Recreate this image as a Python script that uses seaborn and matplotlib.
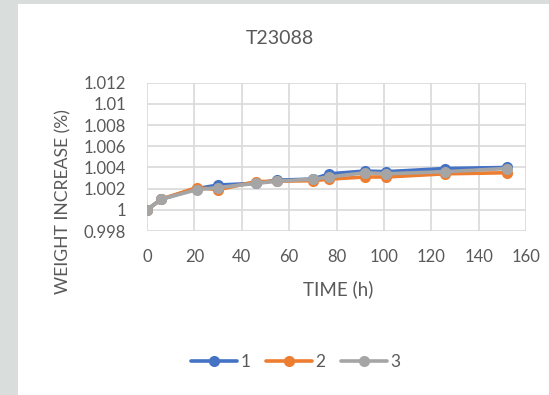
import matplotlib
matplotlib.use("Agg")
import matplotlib.pyplot as plt
import matplotlib.patches as mpatches
from matplotlib.lines import Line2D
from matplotlib.ticker import FuncFormatter, MultipleLocator
import seaborn as sns
import pandas as pd

time_h = [0, 6, 21, 30, 46, 55, 70, 77, 92, 101, 126, 152]
series_1 = [1.0, 1.001, 1.0020, 1.00234, 1.0025, 1.0028, 1.0029, 1.0034, 1.00366, 1.0036, 1.0039, 1.0040]
series_2 = [1.0, 1.001, 1.0021, 1.0019, 1.00266, 1.0027, 1.00275, 1.0029, 1.0031, 1.0031, 1.0034, 1.0035]
series_3 = [1.0, 1.001, 1.0019, 1.0021, 1.0025, 1.0027, 1.0029, 1.0031, 1.0035, 1.0034, 1.0036, 1.0039]
series_names = ["1", "2", "3"]
colors = ["#4472C4", "#ED7D31", "#A5A5A5"]

rows = []
for name, vals in zip(series_names, [series_1, series_2, series_3]):
    for t, v in zip(time_h, vals):
        rows.append({"TIME": t, "VALUE": v, "SERIES": name})
df = pd.DataFrame(rows)

sns.set_style("white")
plt.rcParams["font.family"] = ["Lato", "DejaVu Sans"]
text_color = "#595959"

W, H = 549, 395
fig = plt.figure(figsize=(W / 100, H / 100), dpi=100)
fig.patch.set_facecolor("white")
# gray frame strips
fig.patches.append(mpatches.Rectangle((0, 0), 18 / W, 1, transform=fig.transFigure,
                                      facecolor="#d9dedc", edgecolor="none", zorder=0))
fig.patches.append(mpatches.Rectangle((0, 1 - 4 / H), 1, 4 / H, transform=fig.transFigure,
                                      facecolor="#d9dedc", edgecolor="none", zorder=0))

left, right, top, bottom = 147, 526, 82.7, 231
ax = fig.add_axes([left / W, 1 - bottom / H, (right - left) / W, (bottom - top) / H])

sns.lineplot(data=df, x="TIME", y="VALUE", hue="SERIES", palette=colors,
             marker="o", markersize=8, markeredgewidth=0, linewidth=2.6,
             ax=ax, legend=False)

ax.set_xlim(0, 160)
ax.set_ylim(0.998, 1.012)
ax.xaxis.set_major_locator(MultipleLocator(20))
ax.yaxis.set_major_locator(MultipleLocator(0.002))
ax.yaxis.set_major_formatter(FuncFormatter(lambda v, p: "{:g}".format(round(v, 4))))
ax.grid(True, color="#d9d9d9", linewidth=1.2)
ax.set_axisbelow(True)
for s in ax.spines.values():
    s.set_visible(False)
ax.tick_params(axis="both", length=0, labelsize=12, labelcolor=text_color)
ax.tick_params(axis="x", pad=13)
ax.tick_params(axis="y", pad=15)
ax.set_xlabel("")
ax.set_ylabel("")

fig.text(280 / W, 1 - 38 / H, "T23088", ha="center", va="center", fontsize=14, color=text_color)
fig.text(338 / W, 1 - 289 / H, "TIME (h)", ha="center", va="center", fontsize=13.5, color=text_color)
fig.text(63 / W, 1 - 202 / H, "WEIGHT INCREASE (%)", ha="center", va="center",
         rotation=90, fontsize=12.6, color=text_color)

handles = [Line2D([0], [0], color=c, linewidth=2.6, marker="o", markersize=8, markeredgewidth=0)
           for c in colors]
fig.legend(handles, series_names, loc="center", bbox_to_anchor=(296 / W, 1 - 362 / H),
           ncol=3, frameon=False, fontsize=12.5, labelcolor=text_color,
           handlelength=2.65, handletextpad=0.2, columnspacing=0.9)

fig.savefig("out.png", dpi=100)
